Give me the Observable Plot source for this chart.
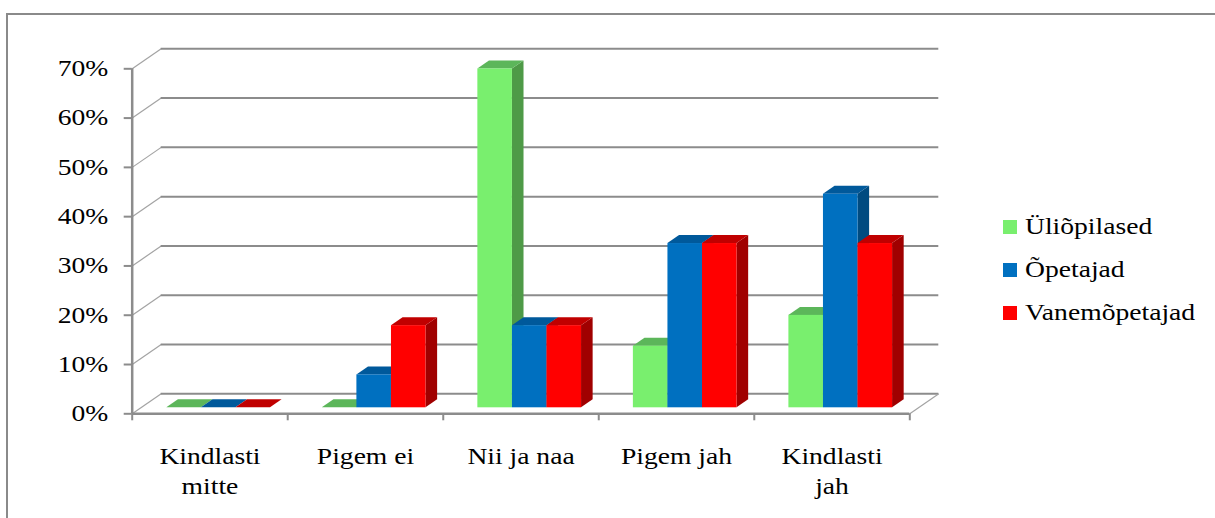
<!DOCTYPE html>
<html>
<head>
<meta charset="utf-8">
<script src="https://cdn.jsdelivr.net/npm/d3@7"></script>
<script src="https://cdn.jsdelivr.net/npm/@observablehq/plot@0.6"></script>
<style>
  html, body { margin: 0; padding: 0; background: #fff; overflow: hidden; }
  #chart { position: relative; width: 1215px; height: 518px; overflow: hidden; }
  #border { position: absolute; left: 6px; top: 13px; width: 1400px; height: 700px;
            border-left: 2px solid #8a8a8a; border-top: 2px solid #8a8a8a; pointer-events: none; }
  #chart svg, #chart svg text { font-family: "Liberation Serif", "DejaVu Serif", serif !important; }
  .lg-swatches { position: absolute; left: 1003px; top: 205px; width: 220px; margin: 0 !important;
                 font-family: "Liberation Serif", "DejaVu Serif", serif !important; font-size: 23px !important; color: #000; }
  .lg-swatch { height: 43.3px; padding: 0 !important; display: flex; align-items: center; }
  .lg-swatch > svg { margin-right: 8px !important; flex: none; }
  .lg-swatch-label { transform: scaleX(1.2); transform-origin: 0 50%; white-space: nowrap; overflow: visible !important;
                     font-family: "Liberation Serif", "DejaVu Serif", serif !important; }
</style>
</head>
<body>
<div id="chart"><div id="border"></div></div>
<script>
// Answers per category, as shares of each group
const categories = ["Kindlasti\nmitte", "Pigem ei", "Nii ja naa", "Pigem jah", "Kindlasti\njah"];
const series = ["Üliõpilased", "Õpetajad", "Vanemõpetajad"];
const students = [0, 0, 0.6875, 0.125, 0.1875];
const teachers = [0, 0.0667, 0.1667, 0.3333, 0.4333];
const seniorTeachers = [0, 0.1667, 0.1667, 0.3333, 0.3333];
const yTicks = [0, 0.1, 0.2, 0.3, 0.4, 0.5, 0.6, 0.7];

// Face shading of the 3-D columns
const frontColors = ["#79ef6e", "#0070c0", "#ff0000"];
const topColors = ["#5cb65a", "#00599b", "#c00000"];
const sideColors = ["#4e9a47", "#004b80", "#a00000"];

const values = [students, teachers, seniorTeachers];

// Plot geometry
const W = 1215, H = 518;
const margin = {top: 68.3, right: 305.7, bottom: 104.7, left: 131.7};
const yMax = 0.7;
const kx = categories.length / (W - margin.left - margin.right); // x data units per pixel
const ky = yMax / (H - margin.top - margin.bottom);               // y data units per pixel
const depth = {x: 29, y: 20};          // oblique depth of the floor, in pixels
const barFront = 0.3, barBack = 0.7;   // column depth as a share of the floor depth
const barW = 1 / 4.5, gap = 0.75 * barW;
const bd = {x: (barBack - barFront) * depth.x, y: (barBack - barFront) * depth.y};
const shift = {dx: barFront * depth.x, dy: -barFront * depth.y};

const bars = values.flatMap((vals, j) => vals.map((v, i) => ({
  j, key: `${j}-${i}`, v,
  x1: i + gap + j * barW,
  x2: i + gap + (j + 1) * barW
})));

const topFaces = bars.flatMap(b => [
  {j: b.j, key: b.key, y: b.v, x1: b.x1, x2: b.x2},
  {j: b.j, key: b.key, y: b.v + ky * bd.y, x1: b.x1 + kx * bd.x, x2: b.x2 + kx * bd.x}
]);
const sideFaces = bars.flatMap(b => [
  {j: b.j, key: b.key, x: b.x2, y1: 0, y2: b.v},
  {j: b.j, key: b.key, x: b.x2 + kx * bd.x, y1: ky * bd.y, y2: b.v + ky * bd.y}
]);

const grid = "#8c8c8c";
const columnMarks = series.flatMap((s, j) => [
  Plot.areaY(sideFaces.filter(d => d.j === j), {x: "x", y1: "y1", y2: "y2", z: "key", fill: sideColors[j], ...shift}),
  Plot.areaX(topFaces.filter(d => d.j === j), {y: "y", x1: "x1", x2: "x2", z: "key", fill: topColors[j], ...shift}),
  Plot.rect(bars.filter(d => d.j === j), {x1: "x1", x2: "x2", y1: 0, y2: "v", fill: frontColors[j], ...shift})
]);

const plot = Plot.plot({
  width: W,
  height: H,
  marginTop: margin.top,
  marginRight: margin.right,
  marginBottom: margin.bottom,
  marginLeft: margin.left,
  style: {fontSize: "23px", color: "#000", background: "transparent", overflow: "visible"},
  x: {type: "linear", domain: [0, categories.length], axis: null},
  y: {type: "linear", domain: [0, yMax], axis: null},
  marks: [
    // side wall diagonals
    Plot.link(yTicks, {x1: 0, y1: d => d, x2: kx * depth.x, y2: d => d + ky * depth.y, stroke: "#a3a3a3", strokeWidth: 1.2}),
    // back wall gridlines
    Plot.ruleY(yTicks, {x1: 0, x2: categories.length, dx: depth.x, dy: -depth.y, stroke: grid, strokeWidth: 2}),
    // right floor edge
    Plot.link([0], {x1: categories.length, y1: 0, x2: categories.length + kx * depth.x, y2: ky * depth.y, stroke: "#a3a3a3", strokeWidth: 1.2}),
    ...columnMarks,
    // front axes
    Plot.ruleX([0], {y1: 0, y2: yMax, stroke: grid, strokeWidth: 2.5}),
    Plot.ruleY([0], {x1: 0, x2: categories.length, stroke: grid, strokeWidth: 2.5}),
    Plot.ruleX(d3.range(categories.length + 1), {y1: 0, y2: -ky * 7, stroke: grid, strokeWidth: 2}),
    Plot.axisY(yTicks, {
      tickFormat: d3.format(".0%"), tickSize: 8, tickPadding: 16,
      stroke: grid, strokeWidth: 2, fill: "#000", fontSize: 23
    }),
    Plot.text(categories, {
      x: (d, i) => i + 0.5, y: 0, text: d => d,
      lineAnchor: "top", lineHeight: 1.33, dy: 28.4, fontSize: 23, fill: "#000"
    })
  ]
});

const legend = Plot.legend({
  color: {type: "ordinal", domain: series, range: frontColors},
  legend: "swatches",
  columns: 1,
  swatchSize: 14,
  className: "lg"
});

const chart = document.getElementById("chart");
chart.insertBefore(plot, chart.firstChild);
chart.appendChild(legend);

// widen the serif labels horizontally around their anchor point
plot.querySelectorAll("text").forEach(t => {
  const b = t.getBBox();
  const anchor = getComputedStyle(t).textAnchor;
  const a = anchor === "end" ? b.x + b.width : anchor === "middle" ? b.x + b.width / 2 : b.x;
  const tr = t.getAttribute("transform") || "";
  t.setAttribute("transform", `${tr} translate(${a},0) scale(1.2,1) translate(${-a},0)`);
});
</script>
</body>
</html>
